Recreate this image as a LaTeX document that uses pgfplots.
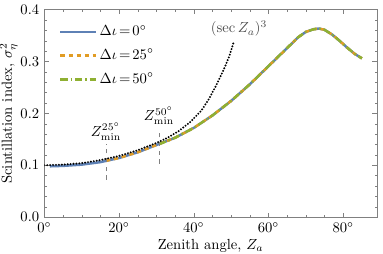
\documentclass[border=0pt]{standalone}
\usepackage{pgfplots}
\pgfplotsset{compat=1.18}
\definecolor{mblue}{rgb}{0.368417,0.506779,0.709798}
\definecolor{morange}{rgb}{0.880722,0.611041,0.142051}
\definecolor{mgreen}{rgb}{0.560181,0.691569,0.194885}
\pgfplotstableread{
z s
1.5 0.098
5 0.0988
10 0.1012
15 0.106
20 0.114
25 0.125
30 0.139
35 0.153
40 0.172
45 0.196
50 0.224
55 0.256
60 0.291
65 0.326
68 0.347
70 0.357
72 0.362
73.5 0.3635
75 0.361
77 0.352
79 0.340
81 0.327
83 0.315
85 0.306
}\mainc
\pgfplotstableread{
z s
16.5 0.1085
20 0.114
25 0.125
30 0.139
35 0.153
40 0.172
45 0.196
50 0.224
55 0.256
60 0.291
65 0.326
68 0.347
70 0.357
72 0.362
73.5 0.3635
75 0.361
77 0.352
79 0.340
81 0.327
83 0.315
85 0.306
}\orangec
\pgfplotstableread{
z s
30.7 0.1405
35 0.153
40 0.172
45 0.196
50 0.224
55 0.256
60 0.291
65 0.326
68 0.347
70 0.357
72 0.362
73.5 0.3635
75 0.361
77 0.352
79 0.340
81 0.327
83 0.315
85 0.306
}\greenc
\pgfplotstableread{
z s
0 0.100
5 0.1012
10 0.104
15 0.110
20 0.118
25 0.129
30 0.143
33 0.153
36 0.166
39 0.183
42 0.205
44 0.227
46 0.254
48 0.284
49.5 0.310
50.8 0.340
}\secc
\newcommand{\deq}{\mskip2.5mu{=}\mskip2.5mu}
\begin{document}
\begin{tikzpicture}
\begin{axis}[
  scale only axis, width=227.5pt, height=142pt,
  xmin=0, xmax=89, ymin=0, ymax=0.4,
  xtick={0,20,40,60,80}, minor x tick num=3,
  ytick={0,0.1,0.2,0.3,0.4}, minor y tick num=4,
  xticklabel={$\pgfmathprintnumber{\tick}^\circ$},
  yticklabel style={/pgf/number format/.cd, fixed, fixed zerofill, precision=1},
  tick align=inside, xtick pos=both, ytick pos=both,
  axis line style={gray}, tick style={gray},
  major tick length=3pt, minor tick length=1.6pt,
  xlabel={Zenith angle, $Z_a$},
  ylabel={Scintillation index, $\sigma_\eta^2$},
  ylabel style={inner sep=0pt, yshift=-1.5pt},
  xlabel style={inner sep=1pt},
  legend style={draw=none, fill=none, at={(0,1)}, anchor=north west,
    xshift=7pt, yshift=-7pt, row sep=4.3pt,
    nodes={inner sep=1.5pt, text height=7pt, text depth=2pt}},
  legend cell align=left,
  legend image code/.code={\draw[#1] (0cm,0cm) -- (0.86cm,0cm);},
]
\addplot[mblue, line width=1.7pt] table {\mainc};
\addlegendentry{$\Delta\iota\deq0^\circ$}
\addplot[morange, line width=1.7pt, dash pattern=on 3pt off 2.5pt] table {\orangec};
\addlegendentry{$\Delta\iota\deq25^\circ$}
\addplot[mgreen, line width=1.7pt, dash pattern=on 5pt off 2pt on 1pt off 2pt] table {\greenc};
\addlegendentry{$\Delta\iota\deq50^\circ$}
\addplot[black, line width=1.5pt, line cap=round, dash pattern=on 0pt off 2pt, forget plot] table {\secc};
\addplot[gray, thin, dashed, forget plot] coordinates {(16.5,0.072) (16.5,0.141)};
\addplot[gray, thin, dashed, forget plot] coordinates {(30.7,0.103) (30.7,0.170)};
\node[above, inner sep=0pt] at (axis cs:16.5,0.148) {$Z^{25^\circ}_{\min}$};
\node[above, inner sep=0pt] at (axis cs:30.7,0.178) {$Z^{50^\circ}_{\min}$};
\node[black!70] at (axis cs:52.1,0.363) {$(\sec Z_a)^3$};
\end{axis}
\path (current bounding box.north east) ++(4pt,0);
\end{tikzpicture}
\end{document}
